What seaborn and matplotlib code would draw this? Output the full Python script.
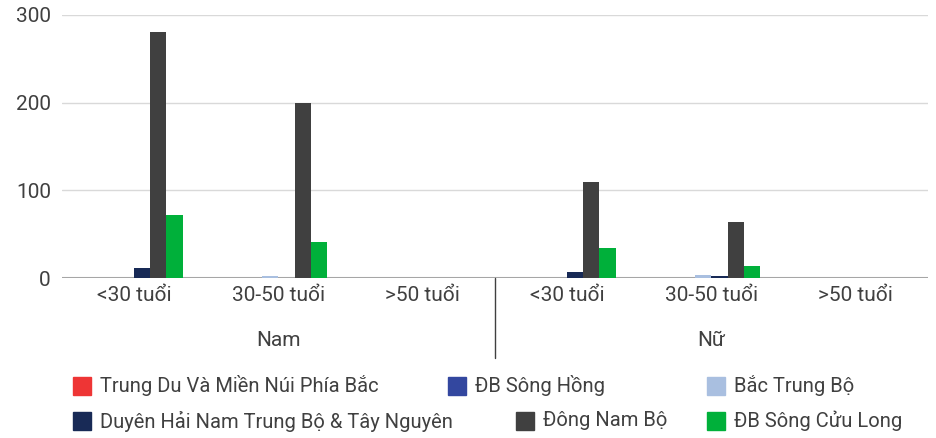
import pandas as pd
import matplotlib.pyplot as plt
import matplotlib.patches as mpatches
import seaborn as sns

sns.set_theme(style="white")
plt.rcParams["font.family"] = ["Roboto", "DejaVu Sans"]

TEXT = "#404040"

genders = ["Nam", "Nữ"]
age_groups = ["<30 tuổi", "30-50 tuổi", ">50 tuổi"]

regions = [
    "Trung Du Và Miền Núi Phía Bắc",
    "ĐB Sông Hồng",
    "Bắc Trung Bộ",
    "Duyên Hải Nam Trung Bộ & Tây Nguyên",
    "Đông Nam Bộ",
    "ĐB Sông Cửu Long",
]
colors = ["#EE3535", "#33479F", "#A9BFE0", "#182A56", "#404040", "#00B03A"]

# values per region, order: Nam <30, 30-50, >50, Nữ <30, 30-50, >50
trung_du = [0, 0, 0, 0, 0, 0]
db_song_hong = [0, 0, 0, 0, 0, 0]
bac_trung_bo = [0, 2, 0, 0, 3, 0]
duyen_hai = [11, 0, 0, 7, 2, 0]
dong_nam_bo = [281, 200, 0, 110, 64, 0]
db_cuu_long = [72, 41, 0, 34, 14, 0]

series = [trung_du, db_song_hong, bac_trung_bo, duyen_hai, dong_nam_bo, db_cuu_long]

keys = [f"{g}|{a}" for g in genders for a in age_groups]
rows = []
for reg, vals in zip(regions, series):
    for k, v in zip(keys, vals):
        rows.append({"nhom": k, "vung": reg, "so_luong": v})
df = pd.DataFrame(rows)

fig = plt.figure(figsize=(9.37, 4.38), dpi=100)
ax = fig.add_axes([62 / 937, 1 - 278 / 438, (928 - 62) / 937, (278 - 15) / 438])

sns.barplot(data=df, x="nhom", y="so_luong", hue="vung", order=keys,
            hue_order=regions, palette=colors, width=0.67, gap=0,
            saturation=1, legend=False, ax=ax, zorder=3, linewidth=0)

ax.set_ylim(0, 300)
ax.set_xlim(-0.5, len(keys) - 0.5)
ax.set_yticks([0, 100, 200, 300])
ax.yaxis.grid(True, color="#D9D9D9", linewidth=1, zorder=0)
ax.axhline(0, color="#A6A6A6", linewidth=1.5, zorder=2)
for s in ax.spines.values():
    s.set_visible(False)
ax.tick_params(axis="y", length=0, pad=8, labelsize=15, labelcolor=TEXT)
ax.tick_params(axis="x", length=0, pad=6, labelsize=15, labelcolor=TEXT)
ax.set_xticks(range(len(keys)))
ax.set_xticklabels(age_groups * 2)
ax.set_xlabel("")
ax.set_ylabel("")

# group labels and separator
trans = ax.get_xaxis_transform()
for i, g in enumerate(genders):
    ax.text(1 + 3 * i, -62 / 263, g, transform=trans, ha="center", va="center",
            fontsize=15, color=TEXT)
ax.plot([2.5, 2.5], [0, -80 / 263], transform=trans, color=TEXT,
        linewidth=1, clip_on=False)

# legend laid out in two rows
leg_pos = [(73, 386), (448, 386), (707, 386), (73, 421), (516, 421), (707, 421)]
for (px, py), reg, c in zip(leg_pos, regions, colors):
    fig.patches.append(mpatches.Rectangle((px / 937, 1 - (py + 9) / 438), 18 / 937, 18 / 438,
                                          transform=fig.transFigure, color=c))
    fig.text((px + 27) / 937, 1 - py / 438, reg, ha="left", va="center",
             fontsize=14.5, color=TEXT)

plt.savefig("out.png", dpi=100)
